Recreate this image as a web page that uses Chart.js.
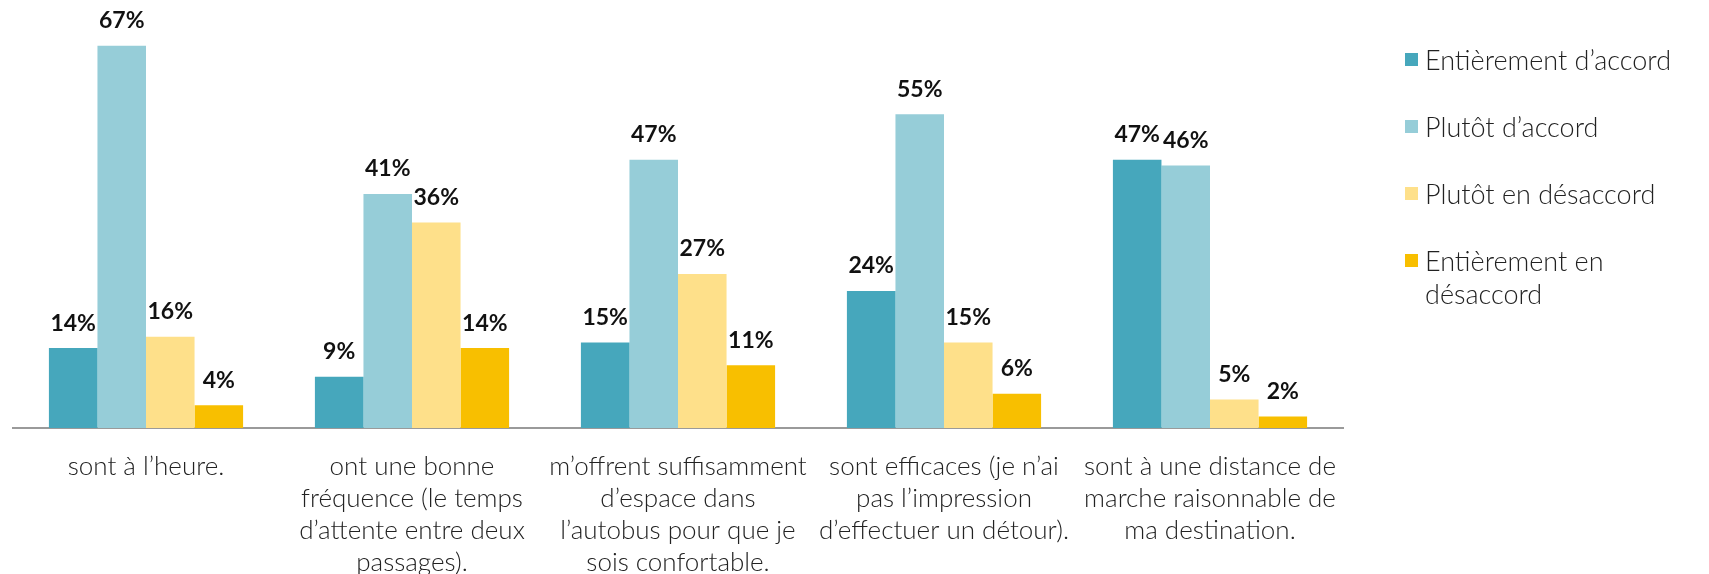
<!DOCTYPE html>
<html lang="fr">
<head>
<meta charset="utf-8">
<script src="https://cdn.jsdelivr.net/npm/chart.js@4"></script>
<style>
    html, body { margin: 0; padding: 0; background: #fff; }
    #wrap { position: relative; width: 1709px; height: 574px; }
    #legend { position: absolute; left: 1405px; top: 43px; width: 292px;
              font-family: Lato, sans-serif; font-weight: 300; font-size: 27px; color: #222; }
    #legend .item { display: flex; align-items: flex-start; margin-bottom: 34px; line-height: 33px; }
    #legend .box { width: 13px; height: 13px; flex: none; margin-top: 10px; margin-right: 7px; }
</style>
</head>
<body>
<div id="wrap">
    <canvas id="chart-bar" width="1709" height="574"></canvas>
    <div id="legend"></div>
</div>
<script>
const categories = [
    ['sont à l’heure.'],
    ['ont une bonne', 'fréquence (le temps', 'd’attente entre deux', 'passages).'],
    ['m’offrent suffisamment', 'd’espace dans', 'l’autobus pour que je', 'sois confortable.'],
    ['sont efficaces (je n’ai', 'pas l’impression', 'd’effectuer un détour).'],
    ['sont à une distance de', 'marche raisonnable de', 'ma destination.']
];
const seriesNames = ['Entièrement d’accord', 'Plutôt d’accord', 'Plutôt en désaccord', 'Entièrement en désaccord'];
const seriesColors = ['#46A7BC', '#96CDD8', '#FEE08A', '#F8BF00'];
const entierementAccord = [14, 9, 15, 24, 47];
const plutotAccord = [67, 41, 47, 55, 46];
const plutotDesaccord = [16, 36, 27, 15, 5];
const entierementDesaccord = [4, 14, 11, 6, 2];

const values = [entierementAccord, plutotAccord, plutotDesaccord, entierementDesaccord];

// percentage labels above each bar
const valueLabels = {
    id: 'valueLabels',
    afterDatasetsDraw(chart) {
        const ctx = chart.ctx;
        ctx.save();
        ctx.font = '700 23px Lato, sans-serif';
        ctx.fillStyle = '#111';
        ctx.textAlign = 'center';
        ctx.textBaseline = 'middle';
        chart.data.datasets.forEach((ds, i) => {
            chart.getDatasetMeta(i).data.forEach((bar, j) => {
                ctx.fillText(ds.data[j] + '%', bar.x, bar.y - 25);
            });
        });
        ctx.restore();
    }
};

// html legend so the long label can wrap
const htmlLegend = {
    id: 'htmlLegend',
    afterUpdate(chart) {
        const box = document.getElementById('legend');
        box.innerHTML = '';
        chart.data.datasets.forEach(ds => {
            const item = document.createElement('div');
            item.className = 'item';
            const sw = document.createElement('span');
            sw.className = 'box';
            sw.style.background = ds.backgroundColor;
            const txt = document.createElement('span');
            txt.textContent = ds.label;
            item.appendChild(sw);
            item.appendChild(txt);
            box.appendChild(item);
        });
    }
};

const ctx = document.getElementById('chart-bar').getContext('2d');
new Chart(ctx, {
    type: 'bar',
    data: {
        labels: categories,
        datasets: values.map((v, i) => ({
            label: seriesNames[i],
            data: v,
            backgroundColor: seriesColors[i],
            barPercentage: 1,
            categoryPercentage: 0.73
        }))
    },
    options: {
        responsive: false,
        animation: false,
        layout: { padding: { left: 13, right: 366, top: 0, bottom: 0 } },
        plugins: {
            legend: { display: false },
            tooltip: { enabled: false }
        },
        scales: {
            x: {
                grid: { display: false, drawTicks: false },
                border: { display: true, color: '#9a9a9a', width: 2 },
                ticks: {
                    color: '#222',
                    padding: 23,
                    maxRotation: 0,
                    autoSkip: false,
                    font: { family: 'Lato, sans-serif', weight: '300', size: 26, lineHeight: 1.23 }
                },
                afterFit: scale => { scale.height = 146; }
            },
            y: {
                display: false,
                min: 0,
                max: 75
            }
        }
    },
    plugins: [valueLabels, htmlLegend]
});
</script>
</body>
</html>
